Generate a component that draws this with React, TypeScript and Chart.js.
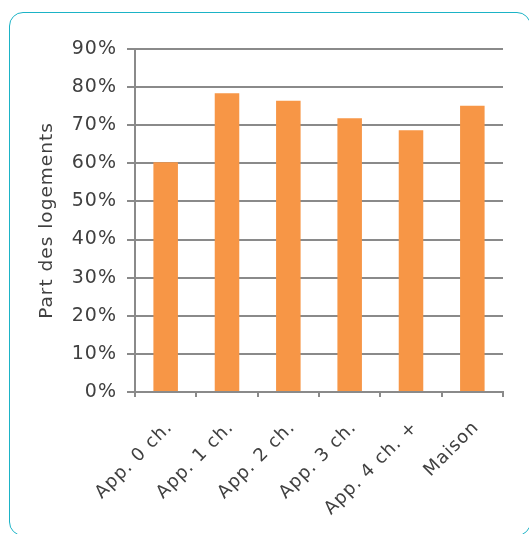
import React, { useEffect, useRef } from 'react';
import { Chart, registerables } from 'chart.js';

Chart.register(...registerables);

// Share of dwellings by type
const categories = ['App. 0 ch.', 'App. 1 ch.', 'App. 2 ch.', 'App. 3 ch.', 'App. 4 ch. +', 'Maison'];
const shares = [60.3, 78.4, 76.4, 71.8, 68.7, 75.1];
const yMin = 0;
const yMax = 90;
const yStep = 10;
const yTitle = 'Part des logements';

const BAR_COLOR = '#F79646';
const GRID_COLOR = '#8a8a8a';
const TEXT_COLOR = '#404040';
const FONT_FAMILY = '"DejaVu Sans", sans-serif';
const SPACING = '1px';

// Canvas state is reset whenever the canvas is resized, so re-apply the spacing
// before every measuring and drawing pass.
const letterSpacingPlugin = {
  id: 'letterSpacing',
  beforeUpdate(chart: any) {
    chart.ctx.letterSpacing = SPACING;
  },
  beforeLayout(chart: any) {
    chart.ctx.letterSpacing = SPACING;
  },
  beforeDraw(chart: any) {
    chart.ctx.letterSpacing = SPACING;
  },
};

export default function App() {
  const canvasRef = useRef<HTMLCanvasElement | null>(null);

  useEffect(() => {
    const canvas = canvasRef.current;
    if (!canvas) return;
    const chart = new Chart(canvas, {
      type: 'bar',
      data: {
        labels: categories,
        datasets: [
          {
            data: shares,
            backgroundColor: BAR_COLOR,
            borderWidth: 0,
            barPercentage: 0.4,
            categoryPercentage: 1,
          },
        ],
      },
      options: {
        responsive: false,
        animation: false,
        devicePixelRatio: 1,
        layout: { padding: { left: 32, top: 49, right: 26, bottom: 0 } },
        plugins: {
          legend: { display: false },
          tooltip: { enabled: false },
        },
        scales: {
          x: {
            afterFit(scale: any) {
              scale.height = 142;
            },
            grid: {
              drawOnChartArea: false,
              drawTicks: true,
              tickLength: 5,
              color: GRID_COLOR,
              lineWidth: 2,
            },
            border: { display: true, color: GRID_COLOR, width: 2 },
            ticks: {
              color: TEXT_COLOR,
              font: { family: FONT_FAMILY, size: 18 },
              minRotation: 45,
              maxRotation: 45,
              padding: 20,
              labelOffset: 4,
              autoSkip: false,
            },
          },
          y: {
            min: yMin,
            max: yMax,
            afterFit(scale: any) {
              scale.width = 103;
            },
            grid: {
              color: GRID_COLOR,
              lineWidth: 2,
              drawTicks: true,
              tickLength: 8,
            },
            border: { display: true, color: GRID_COLOR, width: 2 },
            ticks: {
              stepSize: yStep,
              color: TEXT_COLOR,
              font: { family: FONT_FAMILY, size: 19 },
              padding: 10,
              callback: (v: any) => `${v}%`,
            },
            title: {
              display: true,
              text: yTitle,
              color: TEXT_COLOR,
              font: { family: FONT_FAMILY, size: 18.5 },
              padding: { top: 4, bottom: 0 },
            },
          },
        },
      },
      plugins: [letterSpacingPlugin],
    });
    return () => chart.destroy();
  }, []);

  return (
    <div style={{ position: 'fixed', inset: 0, overflow: 'hidden', background: '#ffffff' }}>
      <div
        style={{
          position: 'absolute',
          left: 9,
          top: 12,
          width: 522,
          height: 524,
          border: '1.5px solid #1bb3c6',
          borderRadius: 14,
          boxSizing: 'border-box',
        }}
      />
      <canvas
        ref={canvasRef}
        width={529}
        height={534}
        style={{ position: 'absolute', left: 0, top: 0, width: 529, height: 534 }}
      />
    </div>
  );
}
